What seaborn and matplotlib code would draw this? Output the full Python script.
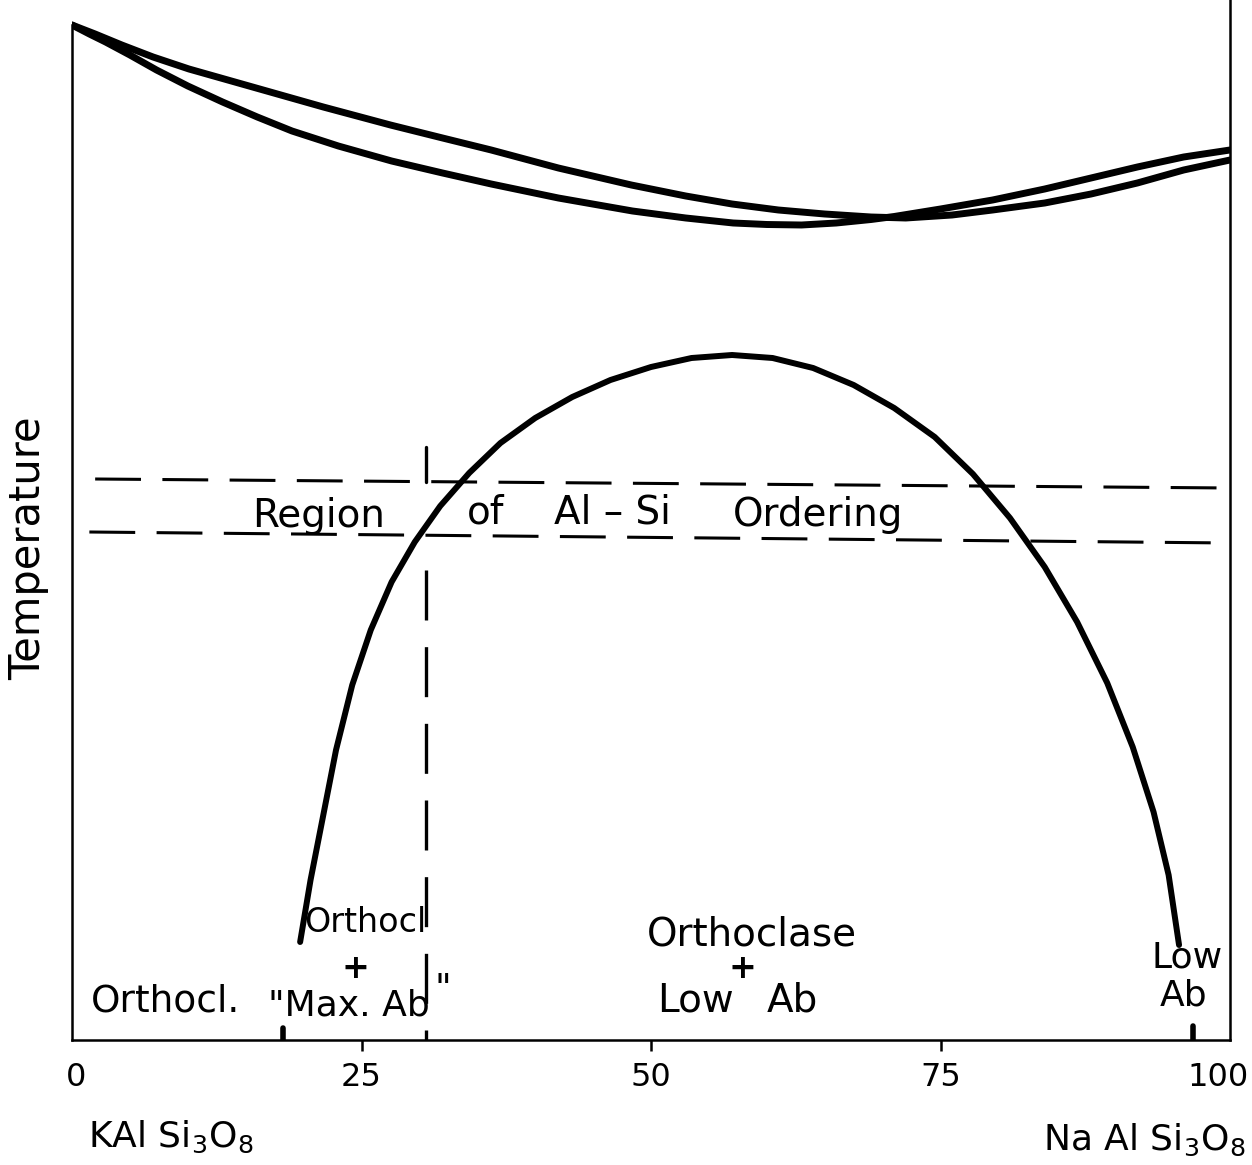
import matplotlib
matplotlib.use("Agg")
import matplotlib.pyplot as plt
import matplotlib.transforms as mtransforms
import seaborn as sns

# ---- data (composition in mol% NaAlSi3O8, temperature in arbitrary units) ----
# curve starting as the upper branch on the K side, lower branch on the Na side
curve_a_x = [0, 2, 4.3, 7, 10.1, 15.9, 21.7, 27.5, 32, 36.2, 42, 48.3, 53, 57, 61, 65, 69, 72,
             76, 79.5, 84, 88, 92, 96, 100]
curve_a_t = [1015, 1006, 995, 983, 971, 952, 933, 915, 902, 890, 872, 855, 844, 836, 830, 826,
             823, 822, 825, 830, 837, 846, 857, 870, 880]

# curve starting as the lower branch on the K side, upper branch on the Na side
curve_b_x = [0, 1.5, 2.9, 5, 7.3, 10, 13, 16, 19, 23, 27.6, 32, 36.2, 42, 48.4, 53, 57.1, 60, 63,
             66, 69, 71, 75, 79.5, 84, 88, 92, 96, 100]
curve_b_t = [1015, 1006, 998, 985, 970, 954, 938, 923, 909, 894, 879, 867, 856, 842, 829, 822,
             817, 815.5, 815, 817, 820.5, 823.5, 831, 840, 851, 862, 873, 883, 890]

solvus_x = [19.7, 20.6, 21.6, 22.8, 24.2, 25.8, 27.6, 29.6, 31.8, 34.3, 37.0, 40.0, 43.2, 46.5,
            50.0, 53.5, 57.0, 60.5, 64.0, 67.5, 71.0, 74.5, 77.8, 81.0, 84.0, 86.8, 89.4, 91.6,
            93.4, 94.7, 95.6]
solvus_t = [98, 160, 219, 290, 355, 410, 458, 498, 534, 567, 597, 622, 643, 660,
            673, 682, 685, 682, 672, 655, 632, 603, 566, 522, 473, 418, 357, 293,
            228, 165, 95]

ordering_upper_x = [2.0, 100.0]
ordering_upper_t = [561, 552]
ordering_lower_x = [1.5, 100.0]
ordering_lower_t = [508, 497]

ordered_boundary_x = 30.6
ordered_boundary_top = [558, 593]
ordered_boundary_low = [470, 0]

foot_marks_x = [18.2, 96.8]
foot_marks_h = [12, 14]

tick_values = [0, 25, 50, 75, 100]
tick_labels = ["0", "25", "50", "75", "100"]

# ---- figure ----
sns.set_theme(style="white")
plt.rcParams['font.family'] = ['DejaVu Sans']

W, H = 1252, 1165
fig = plt.figure(figsize=(W / 100, H / 100), dpi=100)
ax_left_px, ax_right_px = 72, 1230
ax_bottom_px = 1040
ax = fig.add_axes([ax_left_px / W, (H - ax_bottom_px) / H,
                   (ax_right_px - ax_left_px) / W, ax_bottom_px / H])
ax.set_xlim(0, 100)
ax.set_ylim(0, 1040)

sns.lineplot(x=curve_a_x, y=curve_a_t, color="black", linewidth=5.0, estimator=None,
             sort=False, ax=ax, legend=False)
sns.lineplot(x=curve_b_x, y=curve_b_t, color="black", linewidth=5.0, estimator=None,
             sort=False, ax=ax, legend=False)
sns.lineplot(x=solvus_x, y=solvus_t, color="black", linewidth=4.3, estimator=None,
             sort=False, ax=ax, legend=False)
for ln in ax.lines:
    ln.set_solid_joinstyle("round")
    ln.set_solid_capstyle("round")

dash = (0, (15, 7))
ax.plot(ordering_upper_x, ordering_upper_t, color="black", lw=2.2, linestyle=dash)
ax.plot(ordering_lower_x, ordering_lower_t, color="black", lw=2.2, linestyle=dash)
ax.plot([ordered_boundary_x] * 2, ordered_boundary_top, color="black", lw=2.4)
ax.plot([ordered_boundary_x] * 2, ordered_boundary_low, color="black", lw=2.4,
        linestyle=(0, (15, 8)))

for fx, fh in zip(foot_marks_x, foot_marks_h):
    ax.plot([fx, fx], [0, fh], color="black", lw=4, solid_capstyle="round")

# ---- spines & ticks ----
ax.spines["top"].set_visible(False)
for s in ["left", "right", "bottom"]:
    ax.spines[s].set_color("black")
    ax.spines[s].set_linewidth(1.8)
ax.spines["left"].set_bounds(0, 1015)
ax.set_yticks([])
ax.set_xticks(tick_values)
ax.set_xticklabels(tick_labels, fontsize=23)
ax.tick_params(axis="x", direction="out", length=8, width=1.8, pad=8, colors="black",
               bottom=True)
xt = ax.xaxis.get_major_ticks()
xt[0].tick1line.set_visible(False)
xt[-1].tick1line.set_visible(False)
last = ax.get_xticklabels()[-1]
last.set_transform(last.get_transform() +
                   mtransforms.ScaledTranslation(-12 / 100, 0, fig.dpi_scale_trans))
first = ax.get_xticklabels()[0]
first.set_transform(first.get_transform() +
                    mtransforms.ScaledTranslation(4 / 100, 0, fig.dpi_scale_trans))

# ---- labels ----
fs = 28
txt = dict(ha="center", va="center", color="black")
ax.text(21.3, 524, "Region", fontsize=fs, **txt)
ax.text(35.7, 527, "of", fontsize=fs, **txt)
ax.text(46.7, 527, "Al – Si", fontsize=fs, **txt)
ax.text(64.4, 525, "Ordering", fontsize=fs, **txt)

ax.text(58.7, 106, "Orthoclase", fontsize=fs, **txt)
ax.text(57.9, 71, "+", fontsize=24, fontweight="bold", **txt)
ax.text(53.8, 40, "Low", fontsize=fs, **txt)
ax.text(62.2, 40, "Ab", fontsize=fs, **txt)

ax.text(8.1, 38, "Orthocl.", fontsize=27, **txt)
ax.text(25.3, 117, "Orthocl", fontsize=24, **txt)
ax.text(24.5, 72, "+", fontsize=24, fontweight="bold", **txt)
ax.text(16.9, 35, "\"Max. Ab", fontsize=26, ha="left", va="center", color="black")
ax.text(32.0, 51, "\"", fontsize=26, **txt)

ax.text(96.3, 82, "Low", fontsize=26, **txt)
ax.text(96.0, 44, "Ab", fontsize=26, **txt)

ax.text(1.4, -97, "KAl Si$_3$O$_8$", fontsize=26, ha="left", va="center",
        color="black", clip_on=False)
ax.text(101.3, -100, "Na Al Si$_3$O$_8$", fontsize=26, ha="right", va="center",
        color="black", clip_on=False)

fig.text(28 / W, 1 - 548 / H, "Temperature", rotation=90, fontsize=30,
         ha="center", va="center", color="black")

fig.savefig("out.png", dpi=100, facecolor="white")
